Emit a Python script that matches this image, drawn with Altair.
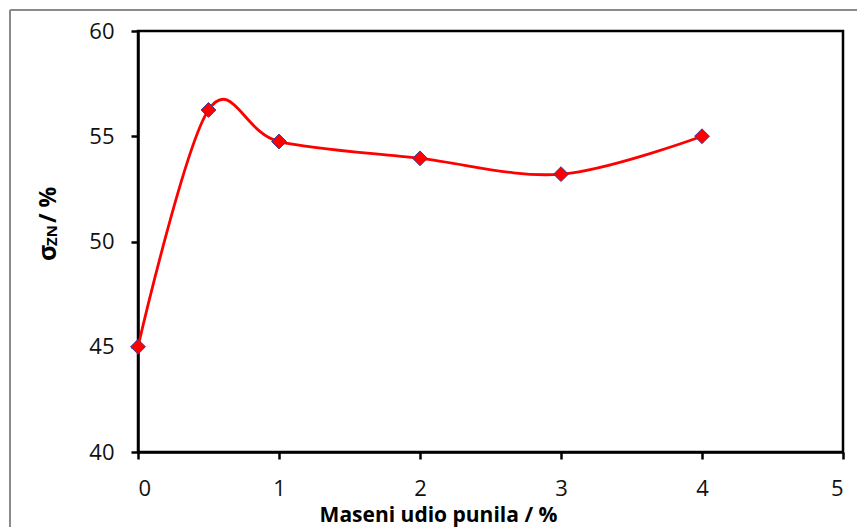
import altair as alt
import pandas as pd

# data
filler_pct = [0, 0.5, 1, 2, 3, 4]
sigma_zn = [45.0, 56.25, 54.75, 53.95, 53.2, 55.0]
x_ticks = [0, 1, 2, 3, 4, 5]
y_ticks = [40, 45, 50, 55, 60]

df = pd.DataFrame({"x": filler_pct, "y": sigma_zn})

FONT = "Open Sans"

x_enc = alt.X(
    "x:Q",
    scale=alt.Scale(domain=[0, 5], nice=False, zero=False),
    axis=alt.Axis(
        values=x_ticks,
        format="d",
        title="Maseni udio punila / %",
        titleX=300,
        titleY=69,
        titleAlign="center",
        titleBaseline="alphabetic",
        labelPadding=19,
    ),
)
y_enc = alt.Y(
    "y:Q",
    scale=alt.Scale(domain=[40, 60], nice=False, zero=False),
    axis=alt.Axis(values=y_ticks, format="d", title="", labelPadding=17),
)

base = alt.Chart(df)
line = base.mark_line(interpolate="cardinal", color="#FF0000", strokeWidth=2.8).encode(x=x_enc, y=y_enc)
pts = base.mark_point(
    shape="diamond", filled=True, size=220, fill="#FF0000",
    stroke="#3b3b9e", strokeWidth=1, opacity=1
).encode(x="x:Q", y="y:Q")

one = alt.Data(values=[{"a": 1}])
t_sigma = alt.Chart(one).mark_text(
    text="σ", angle=270, align="left", baseline="alphabetic",
    font=FONT, fontSize=25, fontWeight="bold", color="#000000"
).encode(x=alt.value(-82), y=alt.value(230))
t_zn = alt.Chart(one).mark_text(
    text="ZN", angle=270, align="left", baseline="alphabetic",
    font=FONT, fontSize=15, fontWeight="bold", color="#000000"
).encode(x=alt.value(-81), y=alt.value(215))
t_pct = alt.Chart(one).mark_text(
    text="/ %", angle=270, align="left", baseline="alphabetic",
    font=FONT, fontSize=23, fontWeight="bold", color="#000000"
).encode(x=alt.value(-82), y=alt.value(192))

frame_left = alt.Chart(one).mark_rule(color="#8a8a8a", strokeWidth=2).encode(
    x=alt.value(-128), y=alt.value(-21), y2=alt.value(700)
)
frame_top = alt.Chart(one).mark_rule(color="#8a8a8a", strokeWidth=2).encode(
    x=alt.value(-128), x2=alt.value(900), y=alt.value(-21)
)

chart = (
    alt.layer(frame_left, frame_top, line, pts, t_sigma, t_zn, t_pct)
    .properties(
        width=705,
        height=421,
        autosize=alt.AutoSizeParams(type="none"),
        padding={"left": 130, "top": 23, "right": 14, "bottom": 75},
        background="white",
    )
    .configure_view(stroke="#000000", strokeWidth=2.5)
    .configure_axis(
        grid=False,
        labelFont=FONT,
        labelFontSize=22,
        labelColor="#111111",
        titleFont=FONT,
        titleFontSize=21,
        titleFontWeight="bold",
        titleColor="#000000",
        domainColor="#000000",
        domainWidth=2.5,
        tickColor="#000000",
        tickWidth=2.5,
        tickSize=7,
    )
)

chart.save("out.html", embed_options={"renderer": "svg", "actions": False})
